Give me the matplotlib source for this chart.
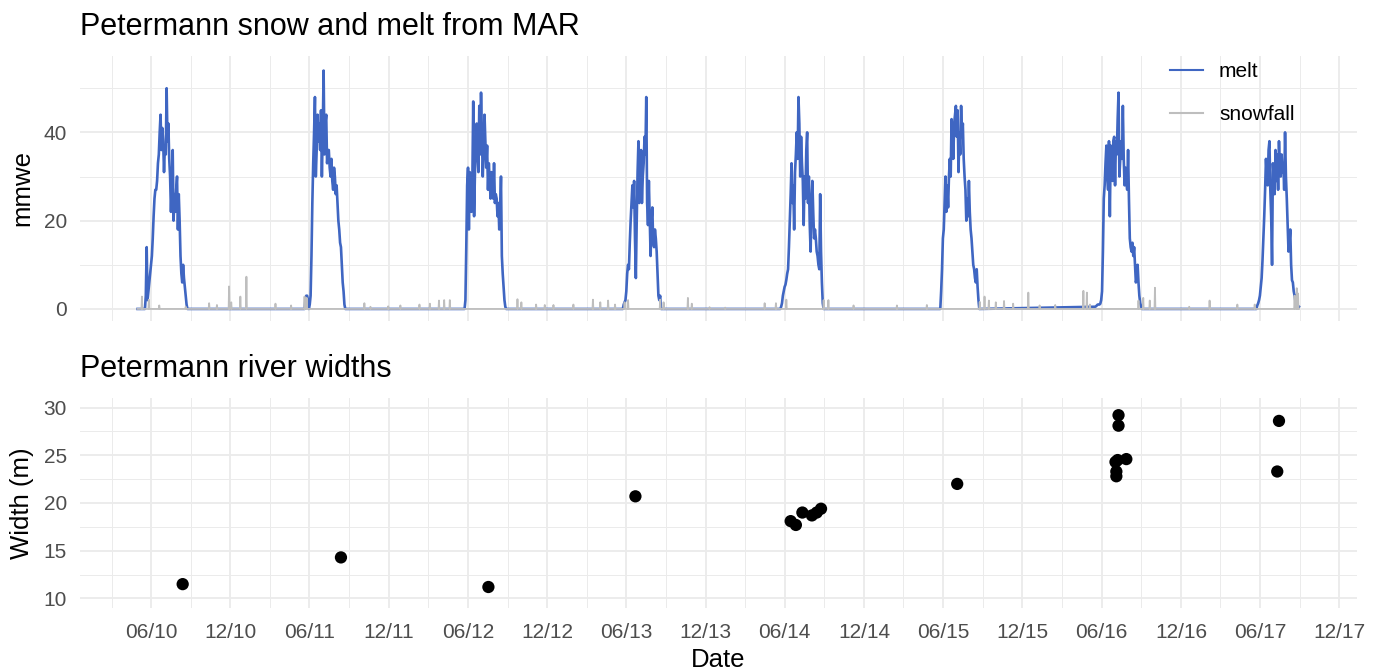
import numpy as np
import pandas as pd
import matplotlib
matplotlib.use("Agg")
import matplotlib.pyplot as plt
import matplotlib.dates as mdates

plt.rcParams["font.family"] = ["Liberation Sans", "DejaVu Sans"]

# ---- MAR melt (mmwe): one list per melt season, one value every 2 days
MELT_STEP_DAYS = 2
series_start = "2010-05-01"
series_end = "2017-08-30"
season_start = ["2010-05-18", "2011-05-21", "2012-05-24", "2013-05-24",
                "2014-05-22", "2015-05-26", "2016-05-15", "2017-05-24"]
melt_2010 = [0, 3, 14, 2, 4, 6, 8, 10, 12, 16, 21, 25, 27, 27, 29, 33, 35, 40, 44, 36,
             41, 38, 31, 37, 35, 50, 38, 42, 34, 30, 22, 28, 36, 20, 26, 22, 27, 30, 18, 26,
             20, 12, 8, 6, 10, 7, 5, 3, 1, 0, 0]
melt_2011 = [0, 2, 3, 3, 2, 0, 1, 3, 12, 24, 33, 40, 48, 30, 36, 44, 38, 42, 36, 45,
             30, 40, 54, 35, 42, 44, 33, 36, 36, 32, 30, 34, 29, 27, 32, 30, 26, 28, 24, 20,
             18, 15, 14, 10, 6, 4, 1, 0]
melt_2012 = [0, 2, 14, 28, 32, 18, 31, 24, 22, 29, 47, 21, 31, 36, 42, 36, 31, 46, 35, 49,
             39, 30, 36, 44, 38, 32, 37, 27, 33, 29, 25, 31, 27, 25, 33, 24, 26, 25, 21, 24,
             18, 22, 30, 12, 8, 5, 2, 0.5, 0]
melt_2013 = [0, 1, 1.5, 2, 4, 8, 10, 9, 15, 20, 24, 28, 23, 29, 16, 7, 20, 31, 38, 24,
             31, 36, 24, 30, 33, 39, 35, 48, 24, 19, 29, 21, 12, 20, 23, 15, 14, 18, 16, 13,
             8, 3, 2, 3, 0]
melt_2014 = [0, 0.5, 1.3, 3, 4, 5, 5.5, 6.6, 8, 9, 14, 20, 26, 33, 24, 28, 18, 31, 35, 40,
             34, 48, 42, 30, 39, 33, 29, 19, 30, 25, 36, 40, 24, 30, 19, 13, 24, 29, 22, 16,
             18, 16, 13, 12, 10, 9, 26, 13, 6, 1.3, 0]
melt_2015 = [0, 4, 9, 16, 18, 24, 30, 22, 28, 23, 30, 34, 30, 43, 39, 34, 42, 44, 46, 39,
             45, 31, 40, 35, 46, 39, 42, 34, 30, 27, 20, 25, 21, 29, 22, 18, 16, 13, 10, 9,
             7, 6, 9, 5, 2, 0]
melt_2016 = [0.5, 0.5, 0.6, 0.8, 1, 1, 1, 1.2, 2, 4, 13, 25, 28, 33, 37, 30, 27, 38, 21, 37,
             32, 29, 38, 39, 28, 38, 35, 43, 49, 30, 34, 38, 34, 46, 34, 28, 32, 29, 27, 36,
             25, 16, 14, 13, 15, 12, 14, 10, 6, 7, 10, 6, 3, 1.3, 0.6, 0]
melt_2017 = [0, 0.8, 1.3, 2, 3, 5, 7, 11, 16, 21, 27, 34, 30, 28, 36, 38, 27, 21, 10, 33,
             30, 26, 36, 29, 35, 27, 38, 32, 30, 35, 31, 33, 27, 40, 30, 25, 19, 13, 15, 18,
             10, 6.5, 6, 4, 3, 1.7, 3, 1.3, 0.6, 0.5]
melt_seasons = [melt_2010, melt_2011, melt_2012, melt_2013,
                melt_2014, melt_2015, melt_2016, melt_2017]

# ---- MAR snowfall (mmwe): days with snowfall, zero otherwise
snow_dates = ["2010-05-11", "2010-05-27", "2010-06-20", "2010-08-20", "2010-10-13", "2010-10-31",
              "2010-11-28", "2010-12-03", "2010-12-24", "2011-01-07", "2011-03-15", "2011-04-20",
              "2011-05-21", "2011-05-26", "2011-10-06", "2011-10-20", "2011-11-30", "2011-12-28",
              "2012-02-10", "2012-03-05", "2012-03-26", "2012-04-07", "2012-04-20", "2012-09-23",
              "2012-10-02", "2012-11-05", "2012-11-25", "2012-12-15", "2013-01-30", "2013-03-16",
              "2013-04-02", "2013-04-20", "2013-05-06", "2013-05-28", "2013-06-05", "2013-08-18",
              "2013-08-26", "2013-10-21", "2013-10-30", "2013-12-10", "2014-01-15", "2014-04-16",
              "2014-05-12", "2014-06-05", "2014-08-30", "2014-09-10", "2014-11-07", "2015-02-15",
              "2015-04-25", "2015-08-25", "2015-09-05", "2015-09-15", "2015-10-01", "2015-10-20",
              "2015-11-10", "2015-12-15", "2016-01-10", "2016-02-15", "2016-04-20", "2016-04-28",
              "2016-05-05", "2016-08-25", "2016-09-05", "2016-09-20", "2016-10-02", "2016-12-20",
              "2017-02-05", "2017-04-10", "2017-05-20", "2017-08-20", "2017-08-25", "2017-08-28"]
snow_vals = [2.8, 2.1, 0.8, 0.5, 1.3, 0.9,
             5.1, 1.5, 2.8, 7.3, 1.2, 0.8,
             2.8, 2.5, 1.3, 0.5, 0.6, 0.8,
             1.0, 1.2, 1.9, 2.0, 2.0, 2.2,
             1.5, 1.0, 0.9, 0.9, 1.0, 2.1,
             1.5, 1.9, 1.0, 1.5, 2.0, 2.1,
             1.5, 2.5, 1.2, 0.4, 0.3, 1.3,
             1.3, 2.1, 2.0, 2.0, 0.8, 0.8,
             0.9, 1.6, 2.8, 1.9, 1.5, 1.8,
             1.2, 3.7, 0.8, 0.9, 4.1, 3.7,
             1.0, 1.9, 2.5, 1.9, 4.8, 0.5,
             1.9, 1.0, 1.0, 3.0, 4.7, 3.5]

# ---- river widths (m)
width_dates = ["2010-08-13", "2011-08-13", "2012-07-18", "2013-06-22",
               "2014-06-15", "2014-06-27", "2014-07-12", "2014-08-03", "2014-08-14", "2014-08-24",
               "2015-07-04",
               "2016-07-10", "2016-07-10", "2016-07-03", "2016-07-08", "2016-07-28",
               "2016-07-05", "2016-07-05",
               "2017-07-15", "2017-07-11"]
width_vals = [11.5, 14.3, 11.2, 20.7,
              18.1, 17.7, 19.0, 18.7, 19.0, 19.4,
              22.0,
              29.2, 28.1, 24.3, 24.5, 24.6,
              23.3, 22.8,
              28.6, 23.3]

# build line series
melt_t = [pd.Timestamp(series_start)]
melt_v = [0.0]
for start, vals in zip(season_start, melt_seasons):
    d = pd.date_range(start, periods=len(vals), freq=f"{MELT_STEP_DAYS}D")
    melt_t.extend(d)
    melt_v.extend(vals)

one = pd.Timedelta(days=1)
snow_t = [pd.Timestamp(series_start)]
snow_v = [0.0]
for ds, v in zip(snow_dates, snow_vals):
    d = pd.Timestamp(ds)
    snow_t += [d - one, d, d + one]
    snow_v += [0.0, v, 0.0]
snow_t.append(pd.Timestamp(series_end))
snow_v.append(0.0)

t0, t1 = pd.Timestamp(series_start), pd.Timestamp(series_end)
pad = (t1 - t0) * 0.05
xlim = mdates.date2num([t0 - pad, t1 + pad])

MELT_COL = "#3F66C2"
SNOW_COL = "#BEBEBE"
GRID_COL = "#EBEBEB"
TICK_COL = "#4D4D4D"

fig = plt.figure(figsize=(13.81, 6.72), dpi=100)
ax1 = fig.add_axes([79.5 / 1381, 1 - 321 / 672, 1277.5 / 1381, 265 / 672])
ax2 = fig.add_axes([79.5 / 1381, 1 - 608 / 672, 1277.5 / 1381, 210 / 672], sharex=ax1)

ax1.plot(melt_t, melt_v, color=MELT_COL, lw=1.9, label="melt", zorder=3)
ax1.plot(snow_t, snow_v, color=SNOW_COL, lw=1.3, label="snowfall", zorder=4)
ax2.scatter(pd.to_datetime(width_dates), width_vals, s=78, color="black",
            edgecolors="none", zorder=3)

# x scale: breaks every 6 months (Jun / Dec), minor halfway between
major = [m for m in pd.date_range("2009-12-01", "2018-06-01", freq="MS") if m.month in (6, 12)]
major_n = mdates.date2num(major)
minor_n = (major_n[:-1] + major_n[1:]) / 2
major_n = major_n[(major_n >= xlim[0]) & (major_n <= xlim[1])]
minor_n = minor_n[(minor_n >= xlim[0]) & (minor_n <= xlim[1])]

for ax in (ax1, ax2):
    ax.set_xticks(major_n)
    ax.set_xticks(minor_n, minor=True)
    for s in ax.spines.values():
        s.set_visible(False)
    ax.grid(which="major", color=GRID_COL, lw=1.3, zorder=0)
    ax.grid(which="minor", color=GRID_COL, lw=0.7, zorder=0)
    ax.set_axisbelow(True)
    ax.tick_params(which="both", length=0, labelsize=15, labelcolor=TICK_COL)
    ax.tick_params(axis="y", pad=9)
    ax.tick_params(axis="x", pad=10.8)

ax1.set_xlim(xlim)
ax2.xaxis.set_major_formatter(mdates.DateFormatter("%m/%y"))
ax1.tick_params(axis="x", labelbottom=False)

ax1.set_yticks([0, 20, 40])
ax1.set_yticks([10, 30, 50], minor=True)
ax1.set_ylim(-2.73, 57.3)

ax2.set_yticks([10, 15, 20, 25, 30])
ax2.set_yticks([12.5, 17.5, 22.5, 27.5], minor=True)
ax2.set_ylim(9, 31)

ax1.set_title("Petermann snow and melt from MAR", loc="left", fontsize=22, pad=15)
ax2.set_title("Petermann river widths", loc="left", fontsize=22, pad=15)

ax1.set_ylabel("mmwe", fontsize=18.5, va="center")
ax1.yaxis.set_label_coords(-57.5 / 1277.5, 0.5)
ax2.set_ylabel("Width (m)", fontsize=18.5, va="center")
ax2.yaxis.set_label_coords(-57.5 / 1277.5, 0.5)
ax2.set_xlabel("Date", fontsize=18.5, va="top")
ax2.xaxis.set_label_coords(0.5, -40 / 210)

leg = ax1.legend(loc="upper left", bbox_to_anchor=(1170 / 1381, 1 - 62 / 672),
                 bbox_transform=fig.transFigure, frameon=False, fontsize=15,
                 handlelength=1.6, handletextpad=0.75, labelspacing=1.15,
                 borderpad=0, borderaxespad=0)
for h in leg.get_lines():
    h.set_linewidth(1.5)

fig.savefig("out.png", dpi=100, facecolor="white")
